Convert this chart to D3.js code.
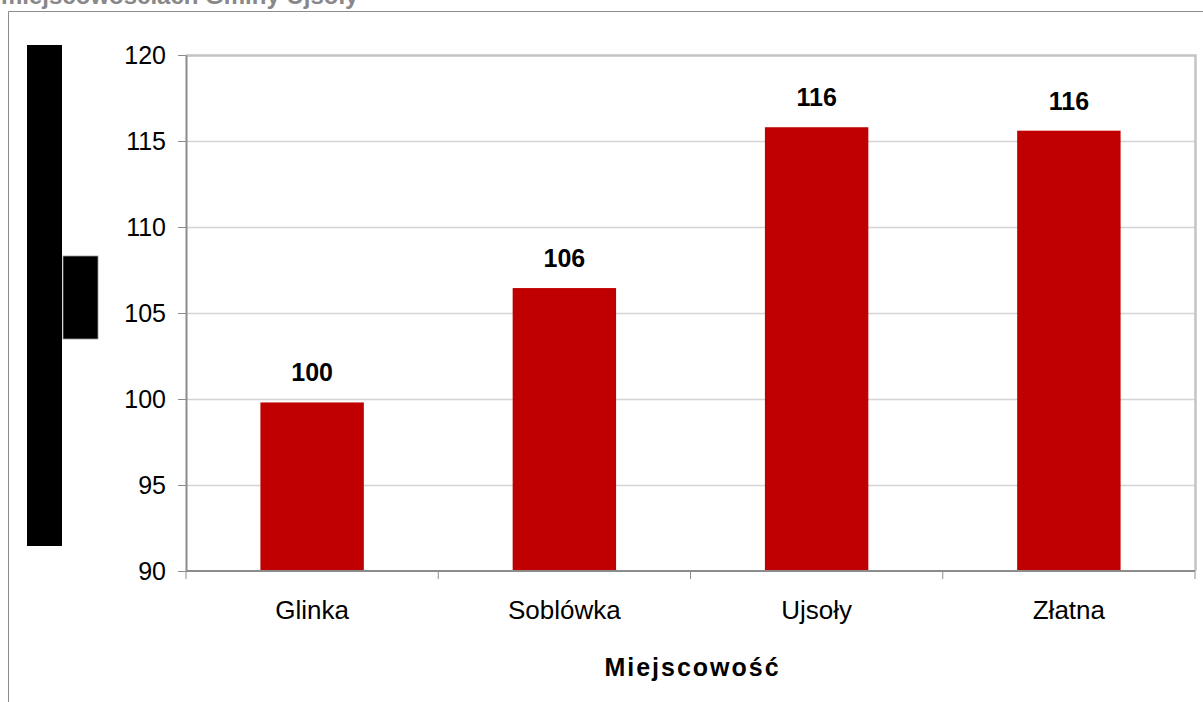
<!DOCTYPE html>
<html>
<head>
<meta charset="utf-8">
<script src="https://cdn.jsdelivr.net/npm/d3@7"></script>
<style>
  body { margin: 0; background: #fff; }
  svg { display: block; font-family: "Liberation Sans", Arial, sans-serif; }
</style>
</head>
<body>
<div class="chart"></div>
<script>
// data
var places = ["Glinka", "Soblówka", "Ujsoły", "Złatna"];
var values = [99.8, 106.45, 115.8, 115.6];
var yTicks = [90, 95, 100, 105, 110, 115, 120];
var titleText = "miejscowościach Gminy Ujsoły";
var xTitle = "Miejscowość";

var W = 1203, H = 702;
var margin = {top: 55, right: 8, bottom: 131, left: 186},
    width = W - margin.left - margin.right,
    height = H - margin.top - margin.bottom;

var root = d3.select(".chart")
  .append("svg")
    .attr("width", W)
    .attr("height", H);

// title, cut off at the top edge like in the original
root.append("text")
  .attr("x", 1)
  .attr("y", 4)
  .attr("font-size", "24px")
  .attr("font-weight", "bold")
  .attr("fill", "#888")
  .text(titleText);

// outer frame
root.append("path")
  .attr("d", "M8.5," + H + "V11.5H" + W)
  .attr("fill", "none")
  .attr("stroke", "#8c8c8c")
  .attr("stroke-width", 1);

// black boxes over the y axis title
root.append("rect")
  .attr("x", 27).attr("y", 45)
  .attr("width", 35).attr("height", 501)
  .attr("fill", "#000");
root.append("rect")
  .attr("x", 63).attr("y", 256)
  .attr("width", 35).attr("height", 83)
  .attr("fill", "#000")
  .attr("stroke", "#9a9a9a")
  .attr("stroke-width", 0.8);

var svg = root.append("g")
  .attr("transform", "translate(" + margin.left + "," + margin.top + ")");

var x = d3.scaleBand()
  .domain(places)
  .range([0, width])
  .paddingInner(0.59)
  .paddingOuter(0.295);

var y = d3.scaleLinear()
  .domain([90, 120])
  .range([height, 0]);

// grid lines
svg.append("g")
  .selectAll("line")
  .data(yTicks.filter(function (d) { return d > 90 && d < 120; }))
  .enter()
  .append("line")
    .attr("x1", 0)
    .attr("x2", width)
    .attr("y1", function (d) { return Math.round(y(d)) + 0.5; })
    .attr("y2", function (d) { return Math.round(y(d)) + 0.5; })
    .attr("stroke", "#d4d4d4")
    .attr("stroke-width", 1.3);

// top and right border of plot area
svg.append("path")
  .attr("d", "M0," + 0.5 + "H" + (width + 0.5) + "V" + height)
  .attr("fill", "none")
  .attr("stroke", "#c4c4c4")
  .attr("stroke-width", 2.5);

// bars
svg.append("g")
  .selectAll("rect")
  .data(values)
  .enter()
  .append("rect")
    .attr("x", function (d, i) { return x(places[i]); })
    .attr("y", function (d) { return y(d); })
    .attr("width", x.bandwidth())
    .attr("height", function (d) { return height - y(d); })
    .attr("fill", "#c00000");

// value labels
svg.append("g")
  .selectAll("text")
  .data(values)
  .enter()
  .append("text")
    .attr("x", function (d, i) { return x(places[i]) + x.bandwidth() / 2; })
    .attr("y", function (d) { return y(d) - 21; })
    .attr("text-anchor", "middle")
    .attr("font-size", "25px")
    .attr("font-weight", "bold")
    .attr("fill", "#000")
    .text(function (d) { return d3.format(".0f")(d); });

// y axis
var yAxis = svg.append("g")
  .call(d3.axisLeft(y).tickValues(yTicks).tickSize(8).tickPadding(12).tickSizeOuter(0));
yAxis.select(".domain").attr("stroke", "#8c8c8c").attr("stroke-width", 2);
yAxis.selectAll(".tick line").attr("stroke", "#8c8c8c");
yAxis.selectAll(".tick text")
  .attr("font-size", "25px")
  .attr("font-family", "Liberation Sans, Arial, sans-serif")
  .attr("fill", "#000");

// x axis: ticks at category boundaries
var xAxis = svg.append("g")
  .attr("transform", "translate(0," + height + ")");
xAxis.append("line")
  .attr("x1", 0).attr("x2", width)
  .attr("y1", 0).attr("y2", 0)
  .attr("stroke", "#8c8c8c")
  .attr("stroke-width", 2);
var bounds = places.map(function (p) { return x(p) - x.step() * x.paddingOuter(); });
bounds.push(width);
xAxis.selectAll(".bt")
  .data(bounds)
  .enter()
  .append("line")
    .attr("class", "bt")
    .attr("x1", function (d) { return d; })
    .attr("x2", function (d) { return d; })
    .attr("y1", 0).attr("y2", 8)
    .attr("stroke", "#8c8c8c");
xAxis.selectAll(".cat")
  .data(places)
  .enter()
  .append("text")
    .attr("class", "cat")
    .attr("x", function (d) { return x(d) + x.bandwidth() / 2; })
    .attr("y", 48)
    .attr("text-anchor", "middle")
    .attr("font-size", "26px")
    .attr("fill", "#000")
    .text(function (d) { return d; });

// x axis title
svg.append("text")
  .attr("x", width / 2 + 2)
  .attr("y", height + 105)
  .attr("text-anchor", "middle")
  .attr("font-size", "25px")
  .attr("font-weight", "bold")
  .attr("letter-spacing", "2px")
  .attr("fill", "#000")
  .text(xTitle);
</script>
</body>
</html>
